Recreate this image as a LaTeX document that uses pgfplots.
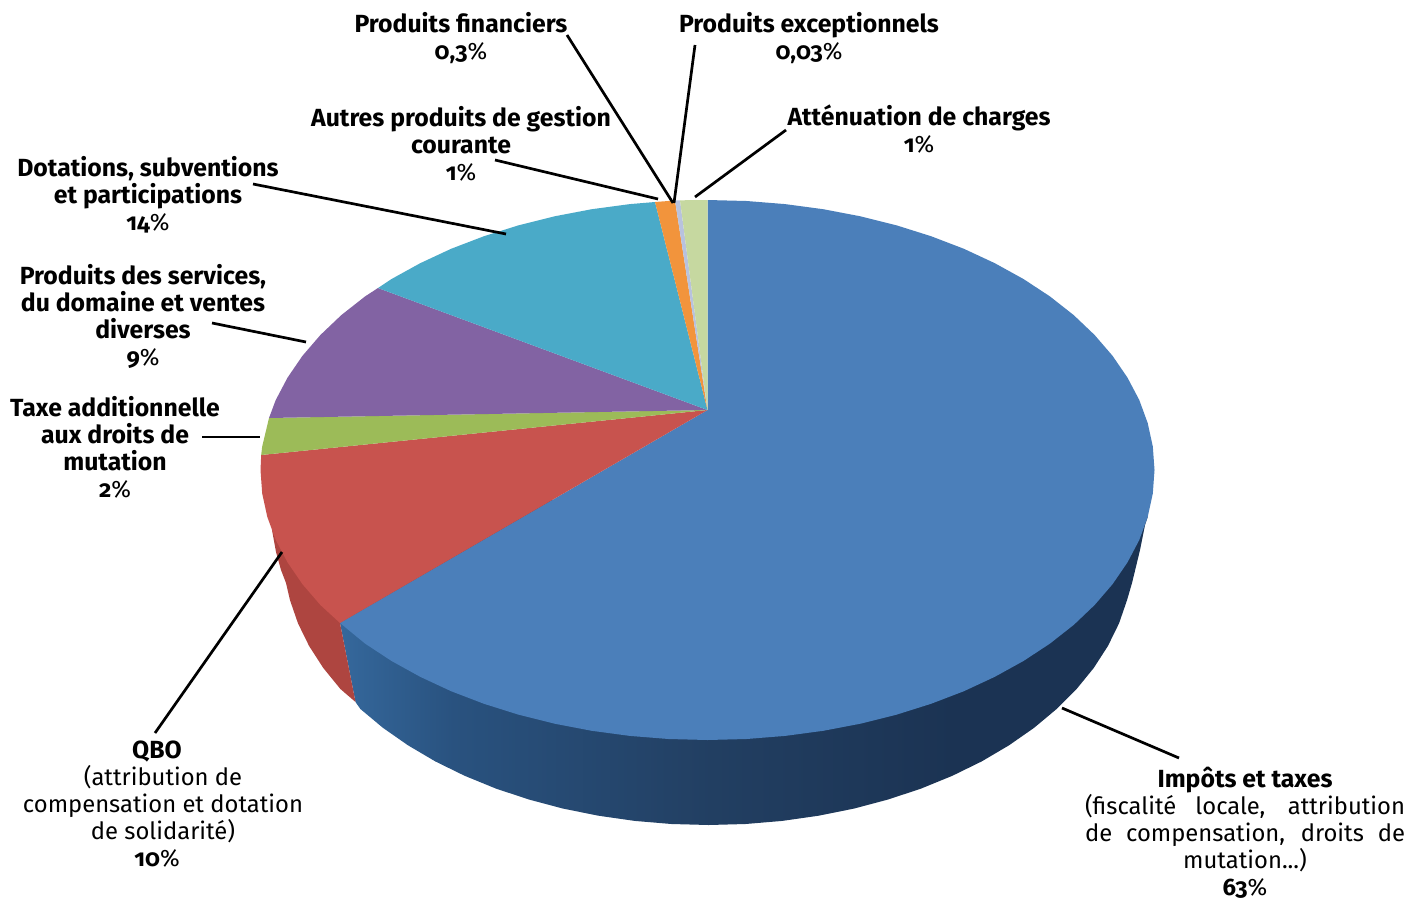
\documentclass[border=0pt]{standalone}
\usepackage{pgfplots}
\pgfplotsset{compat=1.18}
\usepackage{fontspec}
\setmainfont{Fira Sans}[Numbers=OldStyle]
% top faces
\definecolor{cImpots}{HTML}{4B7FBA}
\definecolor{cQbo}{HTML}{C8534E}
\definecolor{cTaxe}{HTML}{9CBB58}
\definecolor{cServ}{HTML}{8263A3}
\definecolor{cDot}{HTML}{4AAAC8}
\definecolor{cAutres}{HTML}{F2943C}
\definecolor{cFin}{HTML}{B8C2DE}
\definecolor{cAtt}{HTML}{C6D8A0}
% side faces
\definecolor{bA}{HTML}{35689C}
\definecolor{bB}{HTML}{29527F}
\definecolor{bC}{HTML}{223F62}
\definecolor{bD}{HTML}{1B3353}
\definecolor{rA}{HTML}{AE4540}
\pgfdeclarehorizontalshading{bluefront}{100bp}{color(0bp)=(bA); color(25bp)=(bA); color(32bp)=(bB); color(48bp)=(bC); color(63bp)=(bD); color(100bp)=(bD)}
\newcommand{\pct}[1]{\textbf{#1}{\fontsize{11.9}{13.5}\selectfont\%}}
\newcommand{\bl}[1]{{\fontsize{12.4}{13.5}\selectfont\bfseries #1}}
\tikzset{lab/.style={align=center, font=\fontsize{11.9}{13.5}\selectfont, inner sep=0pt}}
\begin{document}
\begin{tikzpicture}
\path[use as bounding box] (0,0) rectangle (705.5pt,449.5pt);
\begin{axis}[
    scale only axis,
    width=705.5pt, height=449.5pt,
    xmin=0, xmax=1411, ymin=0, ymax=899,
    y dir=reverse,
    hide axis,
    clip=false,
]
% side, blue
\addplot[draw=none, shading=bluefront] coordinates {
 (340,623) (355.5,702) (360.4,709) (382.9,727.8) (408,745.3) (435.3,761.4) (464.7,775.8) (496,788.6)
 (528.9,799.5) (563.1,808.6) (598.5,815.7) (634.7,820.9) (671.5,824) (708.5,825)
 (745.5,824) (782.3,820.9) (818.5,815.7) (853.9,808.6) (888.1,799.5) (921,788.6)
 (952.3,775.8) (981.7,761.4) (1009,745.3) (1034.1,727.8) (1056.6,709) (1076.6,689)
 (1093.7,668) (1107.9,646) (1119,623.4) (1127,600.2) (1132,583) (1140,550) (1145,525) (1147.7,516.9)
 (1000,500) (500,500)
} -- cycle;
% side, red
\addplot[draw=none, fill=rA] coordinates {
 (340,623) (355.5,702) (340.4,689) (323.3,668) (309.1,646) (298,623.4) (290,600.2)
 (286,583) (281,570) (276,552) (272,530) (400,530)
} -- cycle;
% top, Impots et taxes
\addplot[draw=none, fill=cImpots] coordinates {
 (707.5,410) (707.5,200) (746.5,201) (785.1,204.1) (823.2,209.2) (860.4,216.3) (896.4,225.3) (931,236.2)
 (963.9,248.8) (994.8,263.2) (1023.6,279.1) (1049.9,296.4) (1073.7,315.1) (1094.6,335)
 (1112.6,355.9) (1127.5,377.7) (1139.3,400.1) (1147.7,423.1) (1152.8,446.5) (1154.5,470)
 (1152.8,493.5) (1147.7,516.9) (1139.3,539.9) (1127.5,562.3) (1112.6,584.1) (1094.6,605)
 (1073.7,624.9) (1049.9,643.6) (1023.6,660.9) (994.8,676.8) (963.9,691.2) (931,703.8)
 (896.4,714.7) (860.4,723.7) (823.2,730.8) (785.1,735.9) (746.5,739) (707.5,740)
 (668.5,739) (629.9,735.9) (591.8,730.8) (554.6,723.7) (518.6,714.7) (484,703.8)
 (451.1,691.2) (420.2,676.8) (391.4,660.9) (365.1,643.6) (340,623)
} -- cycle;
% top, QBO
\addplot[draw=none, fill=cQbo] coordinates {
 (707.5,410) (340,623) (320.4,605) (302.4,584.1) (287.5,562.3) (275.7,539.9) (267.3,516.9)
 (262.2,493.5) (260.5,470) (261.2,455)
} -- cycle;
% top, Taxe additionnelle
\addplot[draw=none, fill=cTaxe] coordinates {
 (707.5,410) (261.2,455) (262.2,446.5) (269,418)
} -- cycle;
% top, Produits des services
\addplot[draw=none, fill=cServ] coordinates {
 (707.5,410) (269,418) (275.7,400.1) (287.5,377.7) (302.4,355.9) (320.4,335) (341.3,315.1)
 (365.1,296.4) (378,288)
} -- cycle;
% top, Dotations
\addplot[draw=none, fill=cDot] coordinates {
 (707.5,410) (378,288) (391.4,279.1) (420.2,263.2) (451.1,248.8) (484,236.2) (518.6,225.3)
 (554.6,216.3) (591.8,209.2) (629.9,204.1) (655,202)
} -- cycle;
% top, small slices
\addplot[draw=none, fill=cAutres] coordinates {(707.5,410) (655,202) (675,200.5)} -- cycle;
\addplot[draw=none, fill=cFin] coordinates {(707.5,410) (675,200.5) (680,200.3)} -- cycle;
\addplot[draw=none, fill=cAtt] coordinates {(707.5,410) (680,200.3) (707.5,200)} -- cycle;
% leader lines
\addplot[black, line width=1.35pt] coordinates {(1062,708) (1179,758)};
\addplot[black, line width=1.35pt] coordinates {(282,552) (155,733)};
\addplot[black, line width=1.35pt] coordinates {(202,437) (260,437)};
\addplot[black, line width=1.35pt] coordinates {(212,323) (306,342)};
\addplot[black, line width=1.35pt] coordinates {(253,184) (506,234)};
\addplot[black, line width=1.35pt] coordinates {(495,160) (658,199)};
\addplot[black, line width=1.35pt] coordinates {(567,35) (673,203)};
\addplot[black, line width=1.35pt] coordinates {(695,45) (674,203)};
\addplot[black, line width=1.35pt] coordinates {(786,130) (695,197)};
% labels
\node[lab] at (axis cs:461,38.5) {\bl{Produits financiers}\\\pct{0,3}};
\node[lab] at (axis cs:809,38.5) {\bl{Produits exceptionnels}\\\pct{0,03}};
\node[lab] at (axis cs:461,143.5) {\bl{Autres produits de gestion}\\\bl{courante}\\\pct{1}};
\node[lab] at (axis cs:919,129.5) {\bl{Atténuation de charges}\\\pct{1}};
\node[lab] at (axis cs:148,195) {\bl{Dotations, subventions}\\\bl{et participations}\\\pct{14}};
\node[lab] at (axis cs:143,316.5) {\bl{Produits des services,}\\\bl{du domaine et ventes}\\\bl{diverses}\\\pct{9}};
\node[lab] at (axis cs:115,447) {\bl{Taxe additionnelle}\\\bl{aux droits de}\\\bl{mutation}\\\pct{2}};
\node[lab] at (axis cs:163,804) {\bl{QBO}\hspace*{6pt}\\(attribution de\hspace*{6pt}\\compensation et dotation\\de solidarité)\\\pct{10}\hspace*{6pt}};
\node[lab] at (axis cs:1245,833) {\bl{Impôts et taxes}\\\makebox[160pt][s]{(fiscalité locale, attribution}\\\makebox[160pt][s]{de compensation, droits de}\\mutation...)\\\pct{63}};
\end{axis}
\end{tikzpicture}
\end{document}
